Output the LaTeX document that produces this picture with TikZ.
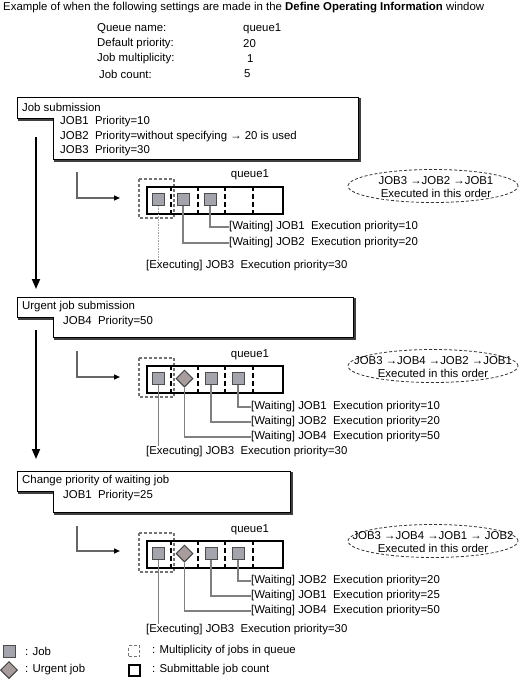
\documentclass[tikz,border=0pt]{standalone}
\usepackage{fontspec}
\setmainfont{Liberation Sans}
\usetikzlibrary{arrows.meta,shapes.geometric}
\definecolor{jobfill}{HTML}{A4A4AC}
\definecolor{urgfill}{HTML}{A89C9C}
\definecolor{leadgray}{HTML}{808080}
\begin{document}
\begin{tikzpicture}[x=1pt,y=-1pt,
  txt/.style={inner sep=0pt, anchor=west, font=\fontsize{11.4}{13}\selectfont},
  ctxt/.style={inner sep=0pt, anchor=center, align=center, font=\fontsize{11.4}{13}\selectfont},
  callout/.style={draw=black, line width=1pt, fill=white},
  calloutshadow/.style={draw=black!75, line width=1.6pt},
  flow/.style={draw=black, line width=1.8pt, -{Triangle[length=10pt,width=8pt]}},
  feed/.style={draw=black!60, line width=1.4pt, -{Triangle[length=6pt,width=5pt,color=black]}},
  qbox/.style={draw=black, line width=2pt, minimum width=136pt, minimum height=27pt, inner sep=0pt, anchor=north west},
  qdiv/.style={draw=black, line width=2pt, dash pattern=on 5pt off 3pt},
  multbox/.style={draw=black!55, line width=1.2pt, dash pattern=on 3pt off 2pt},
  job/.style={rectangle, draw=black!70, line width=1pt, fill=jobfill, minimum size=12pt, inner sep=0pt},
  urgent/.style={diamond, draw=black!75, line width=1pt, fill=urgfill, minimum size=17pt, inner sep=0pt},
  lead/.style={draw=leadgray, line width=1.4pt},
  thinlead/.style={draw=black!35, line width=0.7pt, dash pattern=on 1pt off 0.6pt},
  order/.style={ellipse, draw=black!80, line width=0.8pt, dash pattern=on 3pt off 2pt, minimum width=170pt, minimum height=33pt, inner sep=0pt}
]
\useasboundingbox (0,0) rectangle (525,683);

% ---------- header ----------
\node[txt] (title) at (3,8) {Example of when the following settings are made in the \textbf{Define Operating Information} window};
\node[txt] (k1) at (97,29) {Queue name:};
\node[txt] (k2) at (97,44) {Default priority:};
\node[txt] (k3) at (97,59) {Job multiplicity:};
\node[txt] (k4) at (99,74) {Job count:};
\node[txt] (v1) at (243,29) {queue1};
\node[txt] (v2) at (243,44) {20};
\node[txt] (v3) at (247,59) {1};
\node[txt] (v4) at (244,74) {5};

% ---------- block 1 ----------
\draw[calloutshadow] (19,99) -- (360,99) -- (360,161) -- (55,161) -- (55,120) -- (19,120) -- cycle;
\draw[callout] (17,97) -- (358,97) -- (358,159) -- (53,159) -- (53,118) -- (17,118) -- cycle;
\node[txt] (b1t) at (22,107) {Job submission};
\node[txt] (b1a) at (60,122) {JOB1\ \ Priority=10};
\node[txt] (b1b) at (60,137) {JOB2\ \ Priority=without specifying → 20 is used};
\node[txt] (b1c) at (60,151) {JOB3\ \ Priority=30};

\coordinate (f1s) at (36,137);
\coordinate (f1e) at (36,289);
\draw[flow] (f1s) -- (f1e);

\coordinate (l1s) at (77,172);
\coordinate (l1e) at (120,198);
\draw[feed] (l1s) |- (l1e);

\node[ctxt] (q1l) at (250,175) {queue1};
\draw[multbox] (139,179) rectangle (174,218);
\node[qbox] (q1) at (146,186) {};
\draw[qdiv] (171,186) -- (171,213);
\draw[qdiv] (198,186) -- (198,213);
\draw[qdiv] (225,186) -- (225,213);
\draw[qdiv] (253,186) -- (253,213);
\node[job] (q1j3) at (158.5,199.5) {};
\node[job] (q1j2) at (183,199.5) {};
\node[job] (q1j1) at (210,199.5) {};
\node[txt] (q1w1) at (229,227) {[Waiting] JOB1\ \ Execution priority=10};
\node[txt] (q1w2) at (229,243) {[Waiting] JOB2\ \ Execution priority=20};
\node[txt] (q1x) at (146,266) {[Executing] JOB3\ \ Execution priority=30};
\draw[lead] (q1j1.south) |- (q1w1.west);
\draw[lead] (q1j2.south) |- (q1w2.west);
\draw[thinlead] (q1j3.south) -- (q1j3.south |- q1x.north);

\node[order] (o1) at (433,186) {};
\node[ctxt] (o1t) at (436,187) {JOB3 →JOB2 →JOB1\\Executed in this order};

% ---------- block 2 ----------
\draw[calloutshadow] (19,299) -- (355,299) -- (355,339) -- (55,339) -- (55,319) -- (19,319) -- cycle;
\draw[callout] (17,297) -- (353,297) -- (353,337) -- (53,337) -- (53,317) -- (17,317) -- cycle;
\node[txt] (b2t) at (22,307) {Urgent job submission};
\node[txt] (b2a) at (63,322) {JOB4\ \ Priority=50};

\coordinate (f2s) at (36,330);
\coordinate (f2e) at (36,459);
\draw[flow] (f2s) -- (f2e);

\coordinate (l2s) at (77,351);
\coordinate (l2e) at (120,377);
\draw[feed] (l2s) |- (l2e);

\node[ctxt] (q2l) at (250,355) {queue1};
\draw[multbox] (139,358) rectangle (174,397);
\node[qbox] (q2) at (146,365) {};
\draw[qdiv] (171,365) -- (171,392);
\draw[qdiv] (198,365) -- (198,392);
\draw[qdiv] (225,365) -- (225,392);
\draw[qdiv] (253,365) -- (253,392);
\node[job] (q2j3) at (158.5,378.5) {};
\node[urgent] (q2j4) at (184.5,378.5) {};
\node[job] (q2j2) at (211,378.5) {};
\node[job] (q2j1) at (238,378.5) {};
\node[txt] (q2w1) at (251,407) {[Waiting] JOB1\ \ Execution priority=10};
\node[txt] (q2w2) at (251,422) {[Waiting] JOB2\ \ Execution priority=20};
\node[txt] (q2w4) at (251,437) {[Waiting] JOB4\ \ Execution priority=50};
\node[txt] (q2x) at (146,452) {[Executing] JOB3\ \ Execution priority=30};
\draw[lead] (q2j1.south) |- (q2w1.west);
\draw[lead] (q2j2.south) |- (q2w2.west);
\draw[lead] (q2j4.south) |- (q2w4.west);
\draw[lead] (q2j3.south) -- (q2j3.south |- q2x.north);

\node[order] (o2) at (433,366) {};
\node[ctxt] (o2t) at (433,367) {JOB3 →JOB4 →JOB2 →JOB1\\Executed in this order};

% ---------- block 3 ----------
\draw[calloutshadow] (19,473) -- (292,473) -- (292,514) -- (55,514) -- (55,493) -- (19,493) -- cycle;
\draw[callout] (17,471) -- (290,471) -- (290,512) -- (53,512) -- (53,491) -- (17,491) -- cycle;
\node[txt] (b3t) at (22,481) {Change priority of waiting job};
\node[txt] (b3a) at (63,496) {JOB1\ \ Priority=25};

\coordinate (l3s) at (77,526);
\coordinate (l3e) at (120,551);
\draw[feed] (l3s) |- (l3e);

\node[ctxt] (q3l) at (250,530) {queue1};
\draw[multbox] (139,533) rectangle (174,572);
\node[qbox] (q3) at (146,540) {};
\draw[qdiv] (171,540) -- (171,567);
\draw[qdiv] (198,540) -- (198,567);
\draw[qdiv] (225,540) -- (225,567);
\draw[qdiv] (253,540) -- (253,567);
\node[job] (q3j3) at (158.5,553.5) {};
\node[urgent] (q3j4) at (184.5,553.5) {};
\node[job] (q3j1) at (211,553.5) {};
\node[job] (q3j2) at (238,553.5) {};
\node[txt] (q3w2) at (251,581) {[Waiting] JOB2\ \ Execution priority=20};
\node[txt] (q3w1) at (251,596) {[Waiting] JOB1\ \ Execution priority=25};
\node[txt] (q3w4) at (251,611) {[Waiting] JOB4\ \ Execution priority=50};
\node[txt] (q3x) at (146,630) {[Executing] JOB3\ \ Execution priority=30};
\draw[lead] (q3j2.south) |- (q3w2.west);
\draw[lead] (q3j1.south) |- (q3w1.west);
\draw[lead] (q3j4.south) |- (q3w4.west);
\draw[lead] (q3j3.south) -- (q3j3.south |- q3x.north);

\node[order] (o3) at (433,541) {};
\node[ctxt] (o3t) at (433,542) {JOB3 →JOB4 →JOB1 → JOB2\\Executed in this order};

% ---------- legend ----------
\node[job] (lg1) at (9,651) {};
\node[txt] (lg1t) at (25,651) {: Job};
\node[urgent] (lg2) at (9,670) {};
\node[txt] (lg2t) at (25,670) {: Urgent job};
\node[rectangle, draw=black!55, line width=1.2pt, dash pattern=on 3pt off 2pt, minimum size=11pt, inner sep=0pt] (lg3) at (134,651) {};
\node[txt] (lg3t) at (152,651) {: Multiplicity of jobs in queue};
\node[rectangle, draw=black, line width=2pt, minimum size=11pt, inner sep=0pt] (lg4) at (134,670) {};
\node[txt] (lg4t) at (152,670) {: Submittable job count};
\end{tikzpicture}
\end{document}
